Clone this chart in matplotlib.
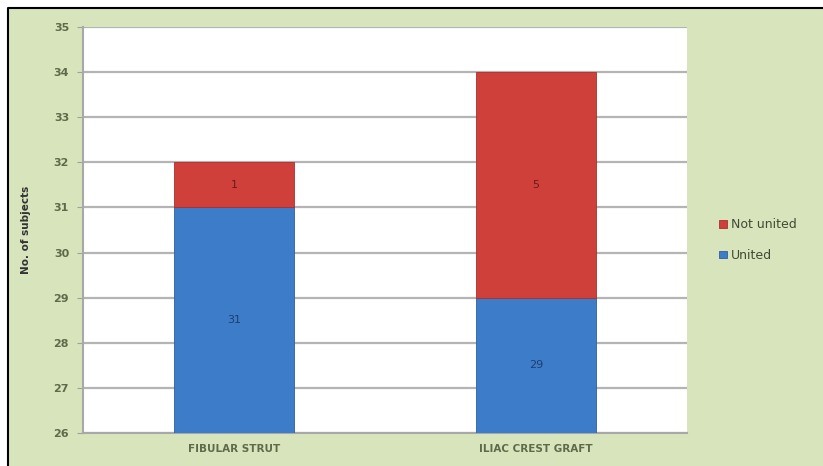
import matplotlib
matplotlib.use("Agg")
import matplotlib.pyplot as plt
from matplotlib.patches import Rectangle
from matplotlib.lines import Line2D

# data
groups = ["FIBULAR STRUT", "ILIAC CREST GRAFT"]
united = [31, 29]
not_united = [1, 5]
ymin, ymax = 26, 35

green = "#d8e4bc"
red = "#cf403b"
blue = "#3d7cc9"
txt = "#5d6b4a"

fig = plt.figure(figsize=(8.23, 4.66), dpi=100)
fig.patch.set_facecolor(green)
# white margin strips on the left and top, black frame line along them
x0, y1 = 8 / 823, 1 - 8 / 466
fig.patches.append(Rectangle((0, 0), x0, 1, transform=fig.transFigure,
                             facecolor="white", edgecolor="none", zorder=-5))
fig.patches.append(Rectangle((0, y1), 1, 1 - y1, transform=fig.transFigure,
                             facecolor="white", edgecolor="none", zorder=-5))
fig.lines.append(Line2D([x0, x0, 1.01], [-0.01, y1, y1],
                        transform=fig.transFigure, color="black",
                        linewidth=1.5, zorder=-4))

ax = fig.add_axes([83 / 823, 33 / 466, 604 / 823, 406 / 466])
ax.set_facecolor("white")

x = range(len(groups))
ax.bar(x, united, width=0.4, color=blue, edgecolor="#2f5f9e",
       linewidth=0.6, label="United", zorder=3)
ax.bar(x, not_united, width=0.4, bottom=united, color=red,
       edgecolor="#a8302c", linewidth=0.6, label="Not united", zorder=3)

# value labels in the middle of the visible part of each segment
for i in x:
    ax.text(i, (ymin + united[i]) / 2, str(united[i]), ha="center",
            va="center", fontsize=8, color="#1f3f6e", zorder=4)
    ax.text(i, united[i] + not_united[i] / 2, str(not_united[i]),
            ha="center", va="center", fontsize=8, color="#6e1a16", zorder=4)

ax.set_xlim(-0.5, 1.5)
ax.set_ylim(ymin, ymax)
ax.set_yticks(range(ymin, ymax + 1))
ax.yaxis.grid(True, color="#b4b4b4", linewidth=1.6, zorder=1)
ax.set_axisbelow(True)
ax.set_xticks(list(x))
ax.set_xticklabels(groups, fontweight="bold")
for t in ax.get_yticklabels():
    t.set_fontweight("bold")
ax.tick_params(axis="x", length=0, labelsize=7.5, labelcolor=txt, pad=8)
ax.tick_params(axis="y", length=4, color="#a0a0a0", labelsize=8,
               labelcolor=txt, pad=6)
for s in ["top", "right"]:
    ax.spines[s].set_visible(False)
for s in ["left", "bottom"]:
    ax.spines[s].set_color("#a8a8a8")
    ax.spines[s].set_linewidth(1.5)
ax.set_ylabel("No. of subjects", fontsize=7.5, fontweight="bold",
              color="#333333", labelpad=16)

handles, labels = ax.get_legend_handles_labels()
ax.legend(handles[::-1], labels[::-1], loc="center left",
          bbox_to_anchor=(1.035, 0.475), frameon=False, fontsize=9,
          handlelength=0.6, handleheight=0.6, labelspacing=1.4,
          handletextpad=0.3, labelcolor="#404a35")

fig.savefig("out.png", dpi=100, facecolor=fig.get_facecolor())
